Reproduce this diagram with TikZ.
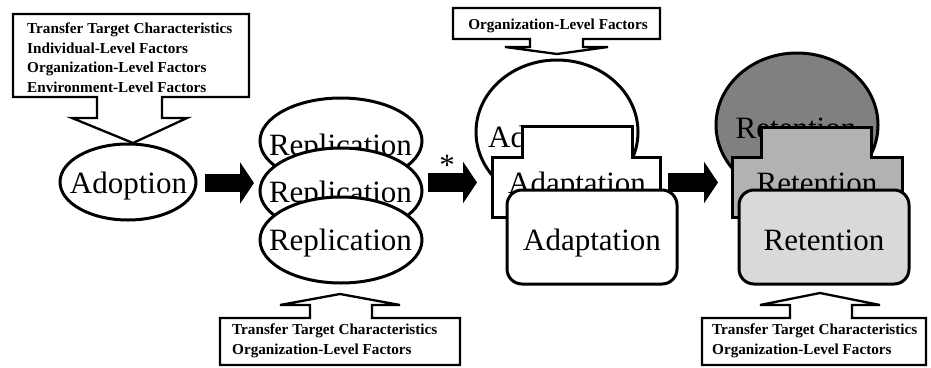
\documentclass[tikz,border=0pt]{standalone}
\usepackage{fontspec}
\setmainfont{Liberation Serif}
\usetikzlibrary{arrows.meta}
\begin{document}
\begin{tikzpicture}[x=1pt,y=-1pt,
  big/.style={font=\fontsize{31}{37}\selectfont, inner sep=0pt, anchor=base},
  shp/.style={line width=3pt, draw=black},
  co/.style={line width=2.3pt, draw=black, fill=white, line join=miter},
  cotext/.style={font=\bfseries\fontsize{15.2}{19}\selectfont, inner sep=0pt, anchor=base west},
  blk/.style={line width=18.5pt, -{Triangle[length=14pt,width=41pt]}}
]
\useasboundingbox (0,0) rectangle (931,367);

% block arrows
\coordinate (a1s) at (205,183);
\coordinate (a1e) at (254,183);
\coordinate (a2s) at (428,182.5);
\coordinate (a2e) at (477,182.5);
\coordinate (a3s) at (668,182.5);
\coordinate (a3e) at (718,182.5);
\draw[blk] (a1s) -- (a1e);
\draw[blk] (a2s) -- (a2e);
\draw[blk] (a3s) -- (a3e);
\node[big, anchor=base] (star) at (447,175) {*};

% callout top-left
\draw[co] (13,14) -- (249,14) -- (249,97) -- (162,97) -- (162,118) -- (187,118)
  -- (133,143) -- (72,118) -- (97,118) -- (97,97) -- (13,97) -- cycle;
\node[cotext] (c1a) at (27,33.3) {Transfer Target Characteristics};
\node[cotext] (c1b) at (27,53) {Individual-Level Factors};
\node[cotext] (c1c) at (27,72.7) {Organization-Level Factors};
\node[cotext] (c1d) at (27,92) {Environment-Level Factors};

% callout top-center
\draw[co] (453,8) -- (660,8) -- (660,39) -- (583,39) -- (583,47) -- (608,47)
  -- (557,54) -- (505,47) -- (530,47) -- (530,39) -- (453,39) -- cycle;
\node[cotext, anchor=base] (c2) at (558,29) {Organization-Level Factors};

% callout bottom 1
\draw[co] (220,365) -- (220,318) -- (310,318) -- (310,305) -- (280,305)
  -- (340,294) -- (400,305) -- (372,305) -- (372,318) -- (460,318) -- (460,365) -- cycle;
\node[cotext] (c3a) at (232,334) {Transfer Target Characteristics};
\node[cotext] (c3b) at (232,354) {Organization-Level Factors};

% callout bottom 2
\draw[co] (702,365) -- (702,318) -- (790,318) -- (790,305) -- (760,305)
  -- (820,293) -- (880,305) -- (852,305) -- (852,318) -- (926,318) -- (926,365) -- cycle;
\node[cotext] (c4a) at (712,334) {Transfer Target Characteristics};
\node[cotext] (c4b) at (712,354) {Organization-Level Factors};

% Adoption
\draw[shp, fill=white] (128,182) ellipse [x radius=68, y radius=38];
\node[big] (adopt) at (128.5,193) {Adoption};

% Replication
\draw[shp, fill=white] (341,141) ellipse [x radius=81, y radius=43];
\node[big] (rep1) at (340.5,155) {Replication};
\draw[shp, fill=white] (341,191) ellipse [x radius=81, y radius=43];
\node[big] (rep2) at (340.5,202) {Replication};
\draw[shp, fill=white] (341,240) ellipse [x radius=81, y radius=43];
\node[big] (rep3) at (340.5,250) {Replication};

% Adaptation
\draw[shp, fill=white] (557,132) ellipse [x radius=81, y radius=72];
\node[big] (ad1) at (557,147) {Adaptation};
\draw[shp, fill=white] (492,217) -- (492,157) -- (522,157) -- (522,126) -- (632,126)
  -- (632,157) -- (660,157) -- (660,217) -- cycle;
\node[big] (ad2) at (577,193) {Adaptation};
\draw[shp, fill=white, rounded corners=15pt] (507,190) rectangle (677,284);
\node[big] (ad3) at (592,250) {Adaptation};

% Retention
\draw[shp, fill={rgb,255:red,128;green,128;blue,128}] (797,125) ellipse [x radius=81, y radius=72];
\node[big] (re1) at (796,138) {Retention};
\draw[shp, fill={rgb,255:red,178;green,178;blue,178}] (732,217) -- (732,157) -- (761,157) -- (761,127) -- (871,127)
  -- (871,157) -- (902,157) -- (902,217) -- cycle;
\node[big] (re2) at (817,193) {Retention};
\draw[shp, fill={rgb,255:red,217;green,217;blue,217}, rounded corners=15pt] (739,190) rectangle (909,284);
\node[big] (re3) at (824,250) {Retention};
\end{tikzpicture}
\end{document}
